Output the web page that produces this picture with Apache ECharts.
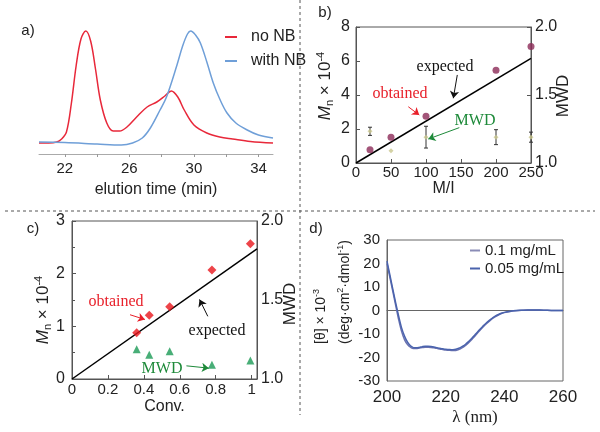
<!DOCTYPE html>
<html>
<head>
<meta charset="utf-8">
<script src="https://cdn.jsdelivr.net/npm/echarts@6.0.0/dist/echarts.min.js"></script>
<style>
  html, body { margin: 0; padding: 0; background: #fff; }
  #chart { width: 600px; height: 432px; }
</style>
</head>
<body>
<div id="chart"></div>
<script>
const SANS = 'Liberation Sans, Arial, sans-serif';
const SERIF = 'Liberation Serif, Times New Roman, serif';

// a) GPC traces (elution time in min, detector signal in arbitrary units)
const noNbTime = [20.4, 21.0, 21.5, 21.8, 22.1, 22.4, 22.7, 23.0, 23.3, 23.6, 23.9, 24.2, 24.6, 25.0, 25.4, 25.85, 26.45, 27.1, 27.7, 28.2, 28.6, 29.0, 29.4, 30.0, 30.8, 31.6, 32.4, 33.5, 34.9];
const noNbSignal = [11, 11, 12, 15, 22, 50, 88, 115, 123, 113, 85, 54, 31, 23, 23, 27, 37, 47, 52, 58, 63, 57, 44, 29, 21, 17, 15, 12.5, 11];
const withNbTime = [20.4, 22, 24, 25.5, 26.2, 26.8, 27.3, 27.9, 28.3, 28.95, 29.3, 29.6, 29.8, 30.1, 30.4, 30.8, 31.2, 31.6, 32.05, 32.6, 33.3, 34.0, 34.9];
const withNbSignal = [12, 11.5, 10, 9, 11, 16, 26, 44, 57, 89, 108, 120, 123, 119, 111, 92, 71, 55, 41, 31, 24, 19, 16];
const timeTicks = [22, 24, 26, 28, 30, 32, 34];
const timeLabels = [22, 26, 30, 34];

// b) Mn vs M/I
const ratioMI = [20, 50, 100, 200, 250];
const mnB = [0.78, 1.51, 2.75, 5.45, 6.85];
const mwdB = [1.233, 1.09, 1.19, 1.19, 1.19];
const mwdBErr = [0.03, 0, 0.08, 0.055, 0.037];
const expectedB = [[0, 0], [250, 6.15]];

// c) Mn vs conversion
const conv = [0.36, 0.43, 0.544, 0.779, 0.993];
const mnC = [0.876, 1.21, 1.37, 2.07, 2.57];
const mwdC = [1.189, 1.154, 1.175, 1.09, 1.117];
const expectedC = [[0, 0], [1.03, 2.47]];

// d) CD spectra
const wavelength = [200, 201, 202, 203, 204, 205, 206, 207, 208, 209, 210, 211, 212, 213, 214, 215, 216, 217, 218, 219, 220, 221, 222, 223, 224, 225, 226, 227, 228, 229, 230, 231, 232, 233, 234, 235, 236, 237, 238, 239, 240, 242, 244, 246, 248, 250, 252, 254, 256, 258, 260];
const cd01 = [20, 14, 8, 2, -4, -9, -12.5, -14.5, -15.6, -16.2, -16.2, -16, -15.8, -15.6, -15.6, -15.7, -15.9, -16.1, -16.4, -16.6, -16.8, -16.9, -17, -17, -16.8, -16.3, -15.6, -14.6, -13.5, -12.2, -10.8, -9.4, -8, -6.7, -5.5, -4.4, -3.4, -2.6, -1.9, -1.3, -0.9, -0.4, -0.1, 0.1, 0.2, 0.2, 0.2, 0.1, 0, 0, 0];
const cd005 = [21, 15, 9, 3, -2.5, -7.5, -11, -13.5, -15, -15.8, -15.9, -15.7, -15.4, -15.2, -15.2, -15.3, -15.5, -15.8, -16.1, -16.3, -16.5, -16.6, -16.7, -16.6, -16.3, -15.8, -15.1, -14.1, -13, -11.7, -10.3, -8.9, -7.6, -6.3, -5.1, -4.1, -3.1, -2.3, -1.7, -1.2, -0.8, -0.3, 0, 0.1, 0.2, 0.2, 0.2, 0.1, 0, 0, 0];

// annotation arrows, in data units of their panel
const arrowsB = [
  { from: [144.7, 5.18], to: [139, 3.81], color: '#111' },
  { from: [74.7, 3.31], to: [90.4, 2.82], color: '#e8202a' },
  { from: [147.6, 2.08], to: [103.3, 1.41], color: '#1e8a3a' }
];
const arrowsC = [
  { from: [0.323, 1.22], to: [0.406, 1.13], color: '#e8202a' },
  { from: [0.756, 1.19], to: [0.71, 1.51], color: '#111' },
  { from: [0.637, 0.25], to: [0.762, 0.206], color: '#1e8a3a' }
];

const zip = (xs, ys) => xs.map((x, i) => [x, ys[i]]);

const chart = echarts.init(document.getElementById('chart'));

const boxAxisLine = { lineStyle: { color: '#555', width: 1 } };
const tickIn = { inside: true, length: 4, lineStyle: { color: '#555' } };
const lbl = (size, margin) => ({ fontSize: size, fontFamily: SANS, color: '#222', margin: margin });

const RICH_MN = {
  i: { fontSize: 17, fontStyle: 'italic', fontFamily: SANS, lineHeight: 20, fill: '#222' },
  s: { fontSize: 11, fontFamily: SANS, verticalAlign: 'bottom', lineHeight: 11, fill: '#222' },
  t: { fontSize: 17, fontFamily: SANS, lineHeight: 20, fill: '#222' },
  p: { fontSize: 11, fontFamily: SANS, verticalAlign: 'top', lineHeight: 11, fill: '#222' }
};
const RICH_CD = {
  t: { fontSize: 14, fontFamily: SANS, lineHeight: 17, fill: '#222' },
  p: { fontSize: 9, fontFamily: SANS, verticalAlign: 'top', lineHeight: 9, fill: '#222' }
};

const arrowSeries = (list, xi, yi) => list.map(a => ({
  type: 'lines',
  coordinateSystem: 'cartesian2d',
  xAxisIndex: xi,
  yAxisIndex: yi,
  symbol: ['none', 'arrow'],
  symbolSize: 7,
  silent: true,
  z: 6,
  lineStyle: { color: a.color, width: 1, opacity: 1 },
  itemStyle: { color: a.color },
  data: [{ coords: [a.from, a.to] }]
}));

const errorBar = (params, api) => {
  const x = api.value(0), y = api.value(1), e = api.value(2);
  if (!e) return null;
  const top = api.coord([x, y + e]);
  const bot = api.coord([x, y - e]);
  const st = { stroke: '#333', lineWidth: 1 };
  return {
    type: 'group',
    children: [
      { type: 'line', shape: { x1: top[0], y1: top[1], x2: bot[0], y2: bot[1] }, style: st },
      { type: 'line', shape: { x1: top[0] - 2, y1: top[1], x2: top[0] + 2, y2: top[1] }, style: st },
      { type: 'line', shape: { x1: bot[0] - 2, y1: bot[1], x2: bot[0] + 2, y2: bot[1] }, style: st }
    ]
  };
};

const txt = (x, y, text, color, font, extra) => Object.assign({
  type: 'text', x: x, y: y, silent: true,
  style: { text: text, fill: color, font: font, align: 'center', verticalAlign: 'middle' }
}, extra || {});

const dashed = { stroke: '#555', lineWidth: 1, lineDash: [3, 3] };

chart.setOption({
  animation: false,
  backgroundColor: '#fff',
  grid: [
    { left: 39, top: 20, width: 234, height: 134, show: false },
    { left: 356, top: 27, width: 175, height: 136, show: true, borderColor: '#555', borderWidth: 1 },
    { left: 72, top: 221, width: 185, height: 158, show: true, borderColor: '#555', borderWidth: 1 },
    { left: 387, top: 240, width: 176, height: 141, show: true, borderColor: '#666', borderWidth: 1 }
  ],
  xAxis: [
    {
      gridIndex: 0, type: 'value', min: 20.4, max: 34.9,
      axisLine: { lineStyle: { color: '#aaa' } },
      axisTick: { length: 3, lineStyle: { color: '#999' }, customValues: timeTicks },
      axisLabel: Object.assign(lbl(15, 7), { customValues: timeLabels }),
      splitLine: { show: false },
      name: 'elution time (min)', nameLocation: 'middle', nameGap: 28,
      nameTextStyle: { fontSize: 16, fontFamily: SANS, color: '#222' }
    },
    {
      gridIndex: 1, type: 'value', min: 0, max: 250, interval: 50,
      axisLine: boxAxisLine, axisTick: tickIn, axisLabel: lbl(15, 2),
      splitLine: { show: false },
      name: 'M/I', nameLocation: 'middle', nameGap: 15,
      nameTextStyle: { fontSize: 16, fontFamily: SANS, color: '#222' }
    },
    {
      gridIndex: 2, type: 'value', min: 0, max: 1.03, interval: 0.2,
      axisLine: boxAxisLine, axisTick: tickIn,
      axisLabel: Object.assign(lbl(15, 3), {
        formatter: v => (Math.abs(v * 5 - Math.round(v * 5)) < 1e-6 ? String(+v.toFixed(1)) : '')
      }),
      splitLine: { show: false },
      name: 'Conv.', nameLocation: 'middle', nameGap: 20,
      nameTextStyle: { fontSize: 16, fontFamily: SANS, color: '#222' }
    },
    {
      gridIndex: 3, type: 'value', min: 200, max: 260, interval: 20,
      axisLine: { lineStyle: { color: '#666' } }, axisTick: { show: false },
      axisLabel: lbl(17, 8),
      splitLine: { show: false },
      name: 'λ (nm)', nameLocation: 'middle', nameGap: 28,
      nameTextStyle: { fontSize: 17, fontFamily: SERIF, color: '#222' }
    }
  ],
  yAxis: [
    { gridIndex: 0, type: 'value', min: 0, max: 134, show: false },
    {
      gridIndex: 1, type: 'value', min: 0, max: 8, interval: 2,
      axisLine: boxAxisLine, axisTick: tickIn, axisLabel: lbl(16, 6), splitLine: { show: false }
    },
    {
      gridIndex: 1, type: 'value', position: 'right', min: 1, max: 2, interval: 0.5,
      axisLine: boxAxisLine, axisTick: tickIn,
      axisLabel: Object.assign(lbl(16, 4), { formatter: v => v.toFixed(1) }), splitLine: { show: false }
    },
    {
      gridIndex: 2, type: 'value', min: 0, max: 3, interval: 1,
      axisLine: boxAxisLine, axisTick: tickIn, minorTick: { show: true, splitNumber: 2, length: 3 },
      axisLabel: lbl(16, 7), splitLine: { show: false }
    },
    {
      gridIndex: 2, type: 'value', position: 'right', min: 1, max: 2, interval: 0.5,
      axisLine: boxAxisLine, axisTick: { show: false },
      axisLabel: Object.assign(lbl(16, 4), { formatter: v => v.toFixed(1) }), splitLine: { show: false }
    },
    {
      gridIndex: 3, type: 'value', min: -30, max: 30, interval: 10,
      axisLine: { lineStyle: { color: '#666' } }, axisTick: { show: false },
      axisLabel: lbl(15, 7), splitLine: { show: false }
    }
  ],
  legend: [
    {
      data: ['no NB', 'with NB'], orient: 'vertical', left: 220, top: 24,
      icon: 'rect', itemWidth: 12, itemHeight: 2, itemGap: 8,
      textStyle: { fontSize: 16, fontFamily: SANS, color: '#222', padding: [0, 0, 0, 9] }
    },
    {
      data: ['0.1 mg/mL', '0.05 mg/mL'], orient: 'vertical', left: 465, top: 238,
      icon: 'rect', itemWidth: 10, itemHeight: 2, itemGap: 3,
      textStyle: { fontSize: 15, fontFamily: SANS, color: '#222', padding: [0, 0, 0, 0] }
    }
  ],
  series: [
    {
      name: 'no NB', type: 'line', xAxisIndex: 0, yAxisIndex: 0, data: zip(noNbTime, noNbSignal),
      smooth: 0.35, symbol: 'none', color: '#e8283a', lineStyle: { width: 1.5 }
    },
    {
      name: 'with NB', type: 'line', xAxisIndex: 0, yAxisIndex: 0, data: zip(withNbTime, withNbSignal),
      smooth: 0.35, symbol: 'none', color: '#6f9fd8', lineStyle: { width: 1.5 }
    },
    {
      name: 'expected b', type: 'line', xAxisIndex: 1, yAxisIndex: 1, data: expectedB,
      symbol: 'none', color: '#000', lineStyle: { width: 1.5 }
    },
    {
      name: 'obtained b', type: 'scatter', xAxisIndex: 1, yAxisIndex: 1, data: zip(ratioMI, mnB),
      symbol: 'circle', symbolSize: 7, color: '#8c2b58', clip: false, z: 4
    },
    {
      name: 'MWD b err', type: 'custom', xAxisIndex: 1, yAxisIndex: 2,
      data: ratioMI.map((x, i) => [x, mwdB[i], mwdBErr[i]]),
      encode: { x: 0, y: 1 }, renderItem: errorBar, clip: false, z: 3
    },
    {
      name: 'MWD b', type: 'scatter', xAxisIndex: 1, yAxisIndex: 2, data: zip(ratioMI, mwdB),
      symbol: 'diamond', symbolSize: 5, color: '#c9c78e', clip: false, z: 4
    },
    {
      name: 'expected c', type: 'line', xAxisIndex: 2, yAxisIndex: 3, data: expectedC,
      symbol: 'none', color: '#000', lineStyle: { width: 1.5 }
    },
    {
      name: 'obtained c', type: 'scatter', xAxisIndex: 2, yAxisIndex: 3, data: zip(conv, mnC),
      symbol: 'diamond', symbolSize: 9, color: '#e8151b', clip: false, z: 4
    },
    {
      name: 'MWD c', type: 'scatter', xAxisIndex: 2, yAxisIndex: 4, data: zip(conv, mwdC),
      symbol: 'triangle', symbolSize: 8, color: '#1a9a55', clip: false, z: 4
    },
    {
      name: '0.1 mg/mL', type: 'line', xAxisIndex: 3, yAxisIndex: 5, data: zip(wavelength, cd01),
      smooth: 0.3, symbol: 'none', color: '#8a8cb6', lineStyle: { width: 1.5, color: '#6a72b0' }
    },
    {
      name: '0.05 mg/mL', type: 'line', xAxisIndex: 3, yAxisIndex: 5, data: zip(wavelength, cd005),
      smooth: 0.3, symbol: 'none', color: '#4a63ad', lineStyle: { width: 1.5 }
    }
  ].concat(arrowSeries(arrowsB, 1, 1), arrowSeries(arrowsC, 2, 3)),
  graphic: [
    { type: 'line', silent: true, shape: { x1: 5, y1: 211, x2: 595, y2: 211 }, style: dashed },
    { type: 'line', silent: true, shape: { x1: 300, y1: 0, x2: 300, y2: 415 }, style: dashed },

    txt(28, 31, 'a)', '#222', '15px ' + SANS),
    txt(325, 13, 'b)', '#222', '15px ' + SANS),
    txt(33, 229, 'c)', '#222', '15px ' + SANS),
    txt(316, 229, 'd)', '#222', '15px ' + SANS),

    txt(445, 67, 'expected', '#111', '16px ' + SERIF),
    txt(400, 94, 'obtained', '#e8202a', '16px ' + SERIF),
    txt(475, 121, 'MWD', '#1e8a3a', '16px ' + SERIF),
    txt(116, 302, 'obtained', '#e8202a', '16px ' + SERIF),
    txt(217, 331, 'expected', '#111', '16px ' + SERIF),
    txt(162, 369, 'MWD', '#1e8a3a', '16px ' + SERIF),

    {
      type: 'text', x: 325, y: 86, rotation: Math.PI / 2, silent: true,
      style: { text: '{i|M}{s|n}{t| × 10}{p|-4}', rich: RICH_MN, align: 'center', verticalAlign: 'middle' }
    },
    {
      type: 'text', x: 43, y: 310, rotation: Math.PI / 2, silent: true,
      style: { text: '{i|M}{s|n}{t| × 10}{p|-4}', rich: RICH_MN, align: 'center', verticalAlign: 'middle' }
    },
    txt(563, 96, 'MWD', '#222', '17px ' + SANS, { rotation: Math.PI / 2 }),
    txt(290, 304, 'MWD', '#222', '17px ' + SANS, { rotation: Math.PI / 2 }),
    {
      type: 'text', x: 321, y: 344, rotation: Math.PI / 2, silent: true,
      style: { text: '{t|[θ] × 10}{p|-3}', rich: RICH_CD, align: 'left', verticalAlign: 'middle' }
    },
    {
      type: 'text', x: 345, y: 344, rotation: Math.PI / 2, silent: true,
      style: { text: '{t|(deg·cm}{p|2}{t|·dmol}{p|-1}{t|)}', rich: RICH_CD, align: 'left', verticalAlign: 'middle' }
    }
  ]
});
</script>
</body>
</html>
